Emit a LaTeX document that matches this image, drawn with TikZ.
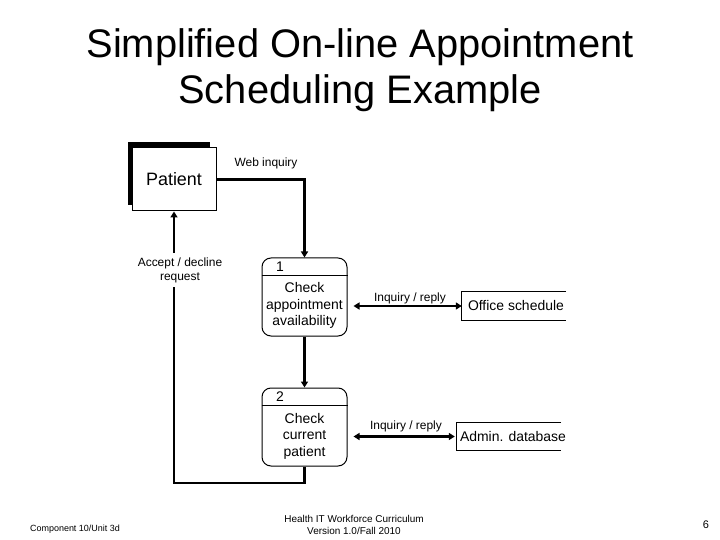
\documentclass[tikz,border=0pt]{standalone}
\usepackage{fontspec}
\setmainfont{Liberation Sans}
\usetikzlibrary{arrows.meta}
\begin{document}
\begin{tikzpicture}[x=1bp,y=-1bp,
  tip/.tip={Triangle[length=6bp,width=7bp]},
  flow/.style={line width=2.2bp,-tip},
  both/.style={line width=2.2bp,tip-tip},
  proc/.style={draw,line width=1bp,rounded corners=9bp,minimum width=85bp,minimum height=78bp,inner sep=0},
  ptext/.style={align=center,font=\fontsize{14}{16.5}\selectfont,inner sep=0},
  pnum/.style={font=\fontsize{14}{16}\selectfont,inner sep=0},
  lbl/.style={font=\fontsize{12}{14}\selectfont,inner sep=1bp,align=center},
  store/.style={minimum width=104bp,inner sep=0},
  stext/.style={anchor=west,font=\fontsize{14}{16}\selectfont,inner sep=0},
  foot/.style={font=\fontsize{10}{12}\selectfont,inner sep=0,align=center},
  title/.style={font=\fontsize{40}{45}\selectfont,inner sep=0,anchor=base}]
\useasboundingbox (0,0) rectangle (720,540);
% title
\node[title] (t1) at (360,58) {Simplified On-line Appointment};
\node[title] (t2) at (360,104) {Scheduling Example};
% patient
\fill (128,142) rectangle (210,205);
\node[draw,fill=white,line width=1bp,minimum width=84bp,minimum height=63bp,font=\fontsize{18}{20}\selectfont] (pat) at (174,179.5) {Patient};
% processes
\node[proc] (p1) at (304.5,297) {};
\draw[line width=1bp] ([yshift=-18bp]p1.north west) -- ([yshift=-18bp]p1.north east);
\node[pnum] (n1) at (280,267) {1};
\node[ptext] (x1) at (304.5,305.5) {Check\\appointment\\availability};
\node[proc] (p2) at (304.5,427) {};
\draw[line width=1bp] ([yshift=-18bp]p2.north west) -- ([yshift=-18bp]p2.north east);
\node[pnum] (n2) at (280,397) {2};
\node[ptext] (x2) at (304.5,436) {Check\\current\\patient};
% data stores
\node[store,minimum height=28bp] (ds1) at (514,306) {};
\draw[line width=1bp] (ds1.north east) -- (ds1.north west) -- (ds1.south west) -- (ds1.south east);
\node[stext,xshift=6bp] (s1) at (ds1.west) {Office schedule};
\node[store,minimum height=27bp] (ds2) at (509,436.5) {};
\draw[line width=1bp] (ds2.north east) -- (ds2.north west) -- (ds2.south west) -- (ds2.south east);
\node[stext,xshift=3bp] (s2) at (ds2.west) {Admin. database};
% connectors
\draw[flow] (pat.east) -| (p1.north);
\draw[flow] (p1.south) -- (p2.north);
\draw[both,shorten <=6bp] (p1.east |- ds1.west) -- (ds1.west);
\draw[both,shorten <=6bp,shorten >=2bp] (p2.east |- ds2.west) -- (ds2.west);
\coordinate (fb) at (174,483);
\draw[flow] (p2.south) |- (fb) -- (fb |- pat.south);
% labels
\node[lbl] (l1) at (266,163) {Web inquiry};
\node[lbl,fill=white,inner sep=4bp] (l2) at (180,270) {Accept / decline\\request};
\node[lbl] (l3) at (410,298) {Inquiry / reply};
\node[lbl] (l4) at (406,426) {Inquiry / reply};
% footer
\node[foot,font=\fontsize{9}{11}\selectfont] (f1) at (75,529) {Component 10/Unit 3d};
\node[foot] (f2) at (354,525) {Health IT Workforce Curriculum\\Version 1.0/Fall 2010};
\node[foot,font=\fontsize{11}{12}\selectfont] (f3) at (706,525) {6};
\end{tikzpicture}
\end{document}
